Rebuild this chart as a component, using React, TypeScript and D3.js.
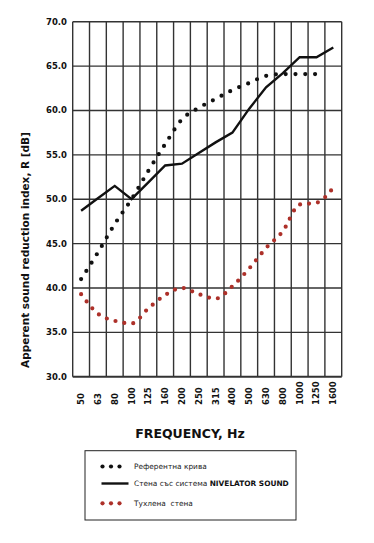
import React, { useEffect, useRef } from 'react';
import * as d3 from 'd3';

// third-octave bands, Hz
const frequencies = ['50', '63', '80', '100', '125', '160', '200', '250', '315', '400', '500', '630', '800', '1000', '1250', '1600'];

// Референтна крива (ends at 1250)
const referenceValues = [41.0, 44.0, 47.2, 50.0, 53.2, 56.2, 59.0, 60.3, 61.3, 62.3, 63.1, 63.9, 64.1, 64.1, 64.1];
// Стена със система NIVELATOR SOUND
const nivelatorValues = [48.7, 50.1, 51.5, 50.0, 51.9, 53.8, 54.0, 55.2, 56.4, 57.5, 60.2, 62.6, 64.2, 66.0, 66.0, 67.1];
// Тухлена стена
const brickValues = [39.3, 37.1, 36.3, 36.0, 37.7, 39.2, 40.0, 39.3, 38.8, 40.2, 42.2, 44.5, 46.4, 49.4, 49.6, 51.3];

const yTicks = [30, 35, 40, 45, 50, 55, 60, 65, 70];

const legendItems = [
  { kind: 'ref', label: 'Референтна крива', bold: '' },
  { kind: 'niv', label: 'Стена със система ', bold: 'NIVELATOR SOUND' },
  { kind: 'brick', label: 'Тухлена  стена', bold: '' },
];

const RED = '#ad3029';
const GRID = '#333';
const BOLD_FONT = '"DejaVu Sans", sans-serif';

function SoundChart() {
  const svgRef = useRef(null);

  useEffect(() => {
    const dims = { width: 374, height: 543, left: 72.7, right: 341.7, top: 21.7, bottom: 376.7 };

    const svg = d3.select(svgRef.current);
    svg.selectAll('*').remove();
    svg.attr('width', dims.width).attr('height', dims.height);

    const x = d3.scaleBand().domain(frequencies).range([dims.left, dims.right]);
    const y = d3.scaleLinear().domain([30, 70]).range([dims.bottom, dims.top]);
    const cx = (f) => x(f) + x.bandwidth() / 2;

    // grid
    const grid = svg.append('g');
    const xEdges = frequencies.map((f) => x(f)).concat([dims.right]);
    grid
      .selectAll('line.v')
      .data(xEdges)
      .join('line')
      .attr('x1', (d) => d)
      .attr('x2', (d) => d)
      .attr('y1', dims.top)
      .attr('y2', dims.bottom)
      .attr('stroke', GRID)
      .attr('stroke-width', 1.4);
    grid
      .selectAll('line.h')
      .data(yTicks)
      .join('line')
      .attr('x1', dims.left)
      .attr('x2', dims.right)
      .attr('y1', (d) => y(d))
      .attr('y2', (d) => y(d))
      .attr('stroke', GRID)
      .attr('stroke-width', (d) => (d === 30 ? 2 : 1.4));

    // y axis labels
    svg
      .append('g')
      .selectAll('text')
      .data(yTicks)
      .join('text')
      .attr('x', 67)
      .attr('y', (d) => y(d))
      .attr('dy', '0.35em')
      .attr('text-anchor', 'end')
      .attr('font-family', BOLD_FONT)
      .attr('font-weight', 'bold')
      .attr('font-size', 8.5)
      .attr('fill', '#111')
      .text((d) => d3.format('.1f')(d));

    // x axis labels
    svg
      .append('g')
      .selectAll('text')
      .data(frequencies)
      .join('text')
      .attr('transform', (d) => `translate(${cx(d)},405) rotate(-90)`)
      .attr('dy', '0.35em')
      .attr('text-anchor', 'start')
      .attr('font-family', BOLD_FONT)
      .attr('font-weight', 'bold')
      .attr('font-size', 8.5)
      .attr('fill', '#111')
      .text((d) => d);

    // axis titles
    svg
      .append('text')
      .attr('transform', `translate(25,250) rotate(-90)`)
      .attr('dy', '0.35em')
      .attr('text-anchor', 'middle')
      .attr('font-family', BOLD_FONT)
      .attr('font-weight', 'bold')
      .attr('font-size', 10.5)
      .attr('fill', '#111')
      .text('Apperent sound reduction index, R [dB]');

    svg
      .append('text')
      .attr('x', 190)
      .attr('y', 438)
      .attr('text-anchor', 'middle')
      .attr('font-family', BOLD_FONT)
      .attr('font-weight', 'bold')
      .attr('font-size', 12.5)
      .attr('fill', '#111')
      .text('FREQUENCY, Hz');

    // data lines
    const line = d3
      .line()
      .x((d, i) => cx(frequencies[i]))
      .y((d) => y(d));

    svg
      .append('path')
      .attr('d', line.curve(d3.curveMonotoneX)(referenceValues))
      .attr('fill', 'none')
      .attr('stroke', '#111')
      .attr('stroke-width', 4.2)
      .attr('stroke-linecap', 'round')
      .attr('stroke-dasharray', '0 9.8');

    svg
      .append('path')
      .attr('d', line.curve(d3.curveLinear)(nivelatorValues))
      .attr('fill', 'none')
      .attr('stroke', '#111')
      .attr('stroke-width', 2.4);

    svg
      .append('path')
      .attr('d', line.curve(d3.curveMonotoneX)(brickValues))
      .attr('fill', 'none')
      .attr('stroke', RED)
      .attr('stroke-width', 4.2)
      .attr('stroke-linecap', 'round')
      .attr('stroke-dasharray', '0 9');

    // legend
    const legend = svg.append('g');
    legend
      .append('rect')
      .attr('x', 85)
      .attr('y', 450.7)
      .attr('width', 211)
      .attr('height', 69.3)
      .attr('fill', 'white')
      .attr('stroke', '#222')
      .attr('stroke-width', 1);

    const rowY = [466.5, 483.5, 503.3];
    legendItems.forEach((item, i) => {
      const g = legend.append('g').attr('transform', `translate(0,${rowY[i]})`);
      if (item.kind === 'niv') {
        g.append('line')
          .attr('x1', 101.5)
          .attr('x2', 128.5)
          .attr('stroke', '#111')
          .attr('stroke-width', 2.4);
      } else {
        g.selectAll('circle')
          .data([102.5, 111, 119.5])
          .join('circle')
          .attr('cx', (d) => d)
          .attr('r', 2.1)
          .attr('fill', item.kind === 'ref' ? '#111' : RED);
      }
      const t = g
        .append('text')
        .attr('x', 134)
        .attr('dy', '0.35em')
        .attr('font-family', '"DejaVu Sans", sans-serif')
        .attr('font-size', 7.4)
        .attr('fill', '#222')
        .attr('xml:space', 'preserve')
        .style('white-space', 'pre')
        .text(item.label);
      if (item.bold) {
        t.append('tspan').attr('font-weight', 'bold').attr('fill', '#111').text(item.bold);
      }
    });
  }, []);

  return <svg ref={svgRef} style={{ position: 'absolute', left: 0, top: 0, background: 'white' }} />;
}

export default function App() {
  return <SoundChart />;
}
